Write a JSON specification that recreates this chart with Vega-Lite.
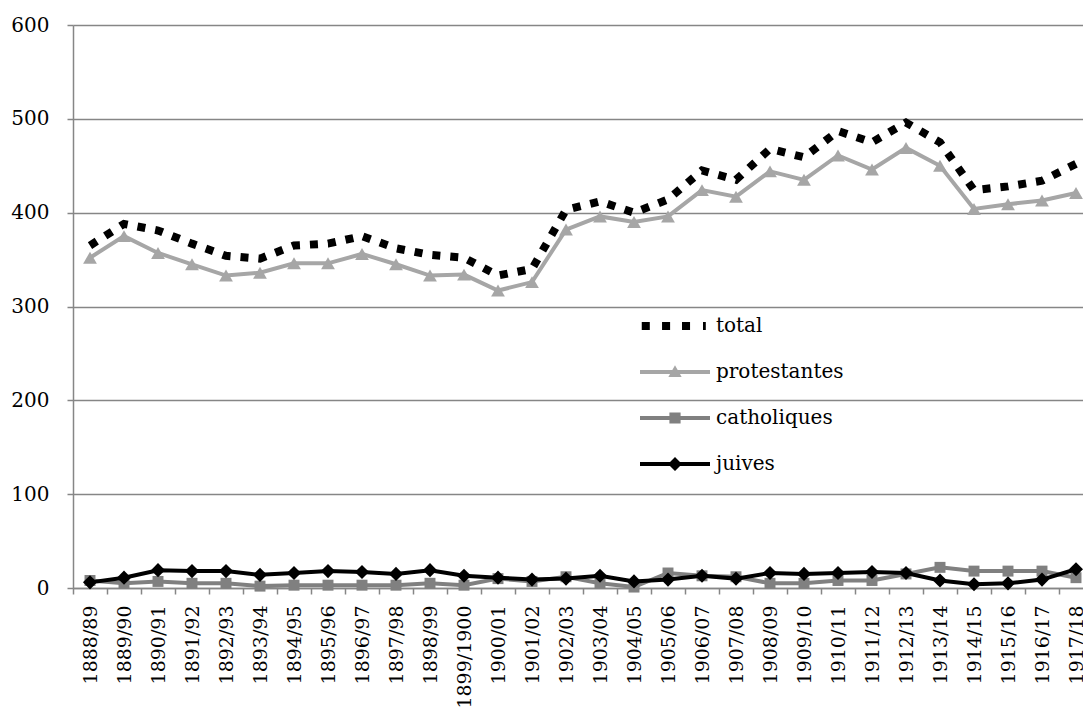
{
  "$schema": "https://vega.github.io/schema/vega-lite/v6.json",
  "width": 1020,
  "height": 563,
  "autosize": {"type": "none"},
  "padding": {"left": 73, "top": 25, "right": -10, "bottom": 125},
  "background": "white",
  "data": {"values": [
    {"annee": "1888/89", "total": 365, "protestantes": 352, "catholiques": 8, "juives": 6},
    {"annee": "1889/90", "total": 388, "protestantes": 375, "catholiques": 5, "juives": 11},
    {"annee": "1890/91", "total": 381, "protestantes": 357, "catholiques": 7, "juives": 19},
    {"annee": "1891/92", "total": 367, "protestantes": 345, "catholiques": 5, "juives": 18},
    {"annee": "1892/93", "total": 354, "protestantes": 333, "catholiques": 5, "juives": 18},
    {"annee": "1893/94", "total": 351, "protestantes": 336, "catholiques": 2, "juives": 14},
    {"annee": "1894/95", "total": 365, "protestantes": 346, "catholiques": 3, "juives": 16},
    {"annee": "1895/96", "total": 367, "protestantes": 346, "catholiques": 3, "juives": 18},
    {"annee": "1896/97", "total": 375, "protestantes": 356, "catholiques": 3, "juives": 17},
    {"annee": "1897/98", "total": 362, "protestantes": 345, "catholiques": 3, "juives": 15},
    {"annee": "1898/99", "total": 355, "protestantes": 333, "catholiques": 5, "juives": 19},
    {"annee": "1899/1900", "total": 352, "protestantes": 334, "catholiques": 3, "juives": 13},
    {"annee": "1900/01", "total": 333, "protestantes": 317, "catholiques": 10, "juives": 11},
    {"annee": "1901/02", "total": 340, "protestantes": 326, "catholiques": 7, "juives": 9},
    {"annee": "1902/03", "total": 403, "protestantes": 382, "catholiques": 12, "juives": 10},
    {"annee": "1903/04", "total": 412, "protestantes": 396, "catholiques": 5, "juives": 13},
    {"annee": "1904/05", "total": 400, "protestantes": 390, "catholiques": 1, "juives": 7},
    {"annee": "1905/06", "total": 414, "protestantes": 396, "catholiques": 16, "juives": 9},
    {"annee": "1906/07", "total": 445, "protestantes": 424, "catholiques": 13, "juives": 13},
    {"annee": "1907/08", "total": 435, "protestantes": 417, "catholiques": 12, "juives": 10},
    {"annee": "1908/09", "total": 468, "protestantes": 444, "catholiques": 5, "juives": 16},
    {"annee": "1909/10", "total": 459, "protestantes": 435, "catholiques": 5, "juives": 15},
    {"annee": "1910/11", "total": 487, "protestantes": 461, "catholiques": 8, "juives": 16},
    {"annee": "1911/12", "total": 475, "protestantes": 446, "catholiques": 8, "juives": 17},
    {"annee": "1912/13", "total": 496, "protestantes": 469, "catholiques": 15, "juives": 16},
    {"annee": "1913/14", "total": 475, "protestantes": 450, "catholiques": 22, "juives": 8},
    {"annee": "1914/15", "total": 424, "protestantes": 404, "catholiques": 18, "juives": 4},
    {"annee": "1915/16", "total": 428, "protestantes": 409, "catholiques": 18, "juives": 5},
    {"annee": "1916/17", "total": 434, "protestantes": 413, "catholiques": 18, "juives": 9},
    {"annee": "1917/18", "total": 452, "protestantes": 421, "catholiques": 11, "juives": 20}
  ]},
  "encoding": {
    "x": {"field": "annee", "type": "ordinal", "sort": null, "bandPosition": 0.5, "title": null,
          "scale": {"type": "band", "paddingInner": 0, "paddingOuter": 0},
          "axis": {"tickBand": "extent", "labelAngle": 270, "labelPadding": 11, "tickSize": 6, "grid": false,
                   "labelFont": "DejaVu Serif", "labelFontSize": 19}}
  },
  "layer": [
    {"mark": {"type": "line", "color": "#000000", "strokeWidth": 8, "strokeDash": [8, 10]},
     "encoding": {"y": {"field": "total", "type": "quantitative", "title": null,
       "scale": {"domain": [0, 600], "nice": false},
       "axis": {"values": [0, 100, 200, 300, 400, 500, 600], "grid": true, "labelPadding": 18, "tickSize": 6,
                "labelFont": "DejaVu Serif", "labelFontSize": 20}}}},
    {"mark": {"type": "line", "color": "#A6A6A6", "strokeWidth": 4},
     "encoding": {"y": {"field": "protestantes", "type": "quantitative"}}},
    {"mark": {"type": "point", "shape": "triangle-up", "filled": true, "color": "#A6A6A6", "size": 190, "opacity": 1},
     "encoding": {"y": {"field": "protestantes", "type": "quantitative"}}},
    {"mark": {"type": "line", "color": "#808080", "strokeWidth": 4},
     "encoding": {"y": {"field": "catholiques", "type": "quantitative"}}},
    {"mark": {"type": "point", "shape": "square", "filled": true, "color": "#808080", "size": 120, "opacity": 1},
     "encoding": {"y": {"field": "catholiques", "type": "quantitative"}}},
    {"mark": {"type": "line", "color": "#000000", "strokeWidth": 4},
     "encoding": {"y": {"field": "juives", "type": "quantitative"}}},
    {"mark": {"type": "point", "shape": "diamond", "filled": true, "color": "#000000", "size": 200, "opacity": 1},
     "encoding": {"y": {"field": "juives", "type": "quantitative"}}},
    {"transform": [{"fold": ["total", "protestantes", "catholiques", "juives"], "as": ["serie", "valeur"]}],
     "mark": {"type": "point", "filled": true, "opacity": 0, "size": 1},
     "encoding": {
       "y": {"field": "valeur", "type": "quantitative"},
       "shape": {"field": "serie", "type": "nominal", "title": null,
         "scale": {"domain": ["total", "protestantes", "catholiques", "juives"],
                   "range": [
                     "M-0.95,-0.114H-0.72V0.114H-0.95Z M-0.37,-0.114H-0.14V0.114H-0.37Z M0.2,-0.114H0.43V0.114H0.2Z M0.8,-0.114H0.88V0.114H0.8Z",
                     "M-1,-0.06H1V0.06H-1Z M0,-0.19L0.19,0.14L-0.19,0.14Z",
                     "M-1,-0.06H1V0.06H-1Z M-0.16,-0.16H0.16V0.16H-0.16Z",
                     "M-1,-0.06H1V0.06H-1Z M0,-0.2L0.2,0L0,0.2L-0.2,0Z"]},
         "legend": {"labelFont": "DejaVu Serif", "labelFontSize": 20}},
       "color": {"field": "serie", "type": "nominal", "title": null,
         "scale": {"domain": ["total", "protestantes", "catholiques", "juives"],
                   "range": ["#000000", "#A6A6A6", "#808080", "#000000"]},
         "legend": {"labelFont": "DejaVu Serif", "labelFontSize": 20}}
     }}
  ],
  "config": {
    "font": "DejaVu Serif",
    "view": {"stroke": null},
    "axis": {
      "domainColor": "#868686", "domainWidth": 1.5,
      "tickColor": "#868686", "tickWidth": 1.5,
      "gridColor": "#868686", "gridWidth": 1.3,
      "labelColor": "#000000"
    },
    "legend": {
      "orient": "none", "legendX": 567, "legendY": 266, "padding": 0,
      "symbolSize": 4900, "symbolStrokeWidth": 0, "symbolOpacity": 1,
      "labelColor": "#000000",
      "labelOffset": 6, "rowPadding": 1
    }
  }
}
